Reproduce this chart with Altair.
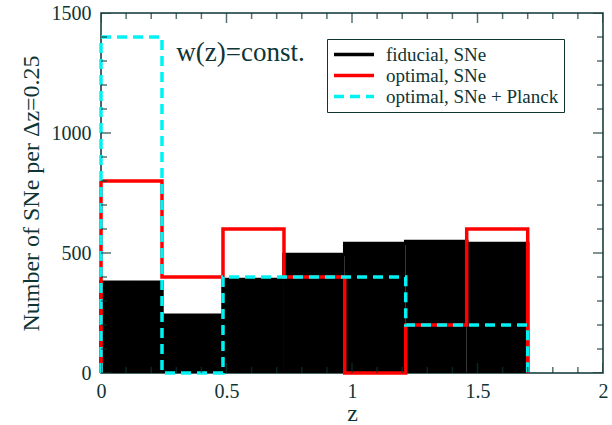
import altair as alt
import pandas as pd

# bin edges (z) and counts per bin
edges = [0.0, 0.243, 0.486, 0.729, 0.971, 1.214, 1.457, 1.7]
fiducial = [378, 241, 390, 494, 540, 548, 540]
optimal = [800, 400, 600, 400, 0, 200, 600]
planck = [1400, 0, 400, 400, 400, 200, 200]

series_names = ["fiducial, SNe", "optimal, SNe", "optimal, SNe + Planck"]
series_colors = ["#000000", "#ff0000", "#00f2f2"]
series_dash = [[1, 0], [1, 0], [10, 6]]

x_major = [0, 0.5, 1, 1.5, 2]
x_minor = [0.1, 0.2, 0.3, 0.4, 0.6, 0.7, 0.8, 0.9, 1.1, 1.2, 1.3, 1.4, 1.6, 1.7, 1.8, 1.9]
y_major = [0, 500, 1000, 1500]
y_minor = [100, 200, 300, 400, 600, 700, 800, 900, 1100, 1200, 1300, 1400]

FONT = "Liberation Serif"
INK = "#0e3434"

bars = pd.DataFrame({"lo": edges[:-1], "hi": edges[1:], "n": fiducial})


def step_rows(name, vals):
    pts = [(edges[0], 0)]
    for i, v in enumerate(vals):
        pts.append((edges[i], v))
        pts.append((edges[i + 1], v))
    pts.append((edges[-1], 0))
    return [{"series": name, "z": z, "n": n, "k": k} for k, (z, n) in enumerate(pts)]


steps = pd.DataFrame(
    step_rows(series_names[0], fiducial)
    + step_rows(series_names[1], optimal)
    + step_rows(series_names[2], planck)
)

xscale = alt.Scale(domain=[0, 2], nice=False, zero=False)
yscale = alt.Scale(domain=[0, 1500], nice=False)

xaxis = alt.Axis(values=x_major, labelExpr="datum.value + ''", labelPadding=8,
                 title="z", titlePadding=0)
yaxis = alt.Axis(values=y_major, labelExpr="datum.value + ''", labelPadding=10,
                 title="Number of SNe per \u0394z=0.25", titlePadding=8)

fill = alt.Chart(bars).mark_rect(color="black").encode(
    x=alt.X("lo:Q", scale=xscale, axis=xaxis),
    x2="hi:Q",
    y=alt.Y("n:Q", scale=yscale, axis=yaxis),
    y2=alt.datum(0),
)

legend = alt.Legend(
    orient="none", legendX=226, legendY=26, title=None,
    symbolType="stroke", symbolSize=1600, symbolStrokeWidth=3.5,
    labelFont=FONT, labelFontSize=19, labelColor=INK, labelOffset=10, labelLimit=0,
    strokeColor=INK, padding=5, rowPadding=0, clipHeight=21, fillColor="white",
)

color = alt.Color("series:N", scale=alt.Scale(domain=series_names, range=series_colors), legend=legend)
dash = alt.StrokeDash("series:N", scale=alt.Scale(domain=series_names, range=series_dash), legend=legend)


def line_layer(name):
    return alt.Chart(steps).transform_filter(alt.datum.series == name).mark_line(
        strokeWidth=3.5, strokeCap="butt"
    ).encode(
        x=alt.X("z:Q", scale=xscale, axis=xaxis),
        y=alt.Y("n:Q", scale=yscale, axis=yaxis),
        order="k:Q",
        color=color,
        strokeDash=dash,
    )


def tick_layer(vals, axis, edge, size):
    df = pd.DataFrame({"v": vals})
    if axis == "x":
        return alt.Chart(df).mark_tick(orient="vertical", size=size, thickness=1.5,
                                       color=INK, clip=True).encode(
            x=alt.X("v:Q", scale=xscale, axis=xaxis), y=alt.datum(edge))
    return alt.Chart(df).mark_tick(orient="horizontal", size=size, thickness=1.5,
                                   color=INK, clip=True).encode(
        y=alt.Y("v:Q", scale=yscale, axis=yaxis), x=alt.datum(edge))


ticks = [
    tick_layer(x_major, "x", 0, 20), tick_layer(x_minor, "x", 0, 12),
    tick_layer(x_major, "x", 1500, 20), tick_layer(x_minor, "x", 1500, 12),
    tick_layer(y_major, "y", 0, 20), tick_layer(y_minor, "y", 0, 12),
    tick_layer(y_major, "y", 2, 20), tick_layer(y_minor, "y", 2, 12),
]

note = alt.Chart(pd.DataFrame({"t": ["w(z)=const."]})).mark_text(
    font=FONT, fontSize=27, color=INK, align="left", baseline="middle"
).encode(x=alt.datum(0.3), y=alt.datum(1333), text="t:N")

chart = alt.layer(
    fill, line_layer(series_names[0]), line_layer(series_names[1]), line_layer(series_names[2]),
    *ticks, note
).properties(
    width=502, height=360,
    autosize=alt.AutoSizeParams(type="none"),
    padding={"left": 101, "top": 13, "right": 9, "bottom": 52},
).configure(font=FONT).configure_view(stroke=INK, strokeWidth=1.5).configure_axis(
    grid=False, domain=False, ticks=False, tickSize=0, labelFlush=False, labelOverlap=False,
    labelFont=FONT, labelFontSize=20, labelColor=INK,
    titleFont=FONT, titleFontSize=24, titleFontWeight="normal", titleColor=INK,
).configure_legend(labelFont=FONT, labelFontSize=19, labelColor=INK)

chart.save("out.html", embed_options={"renderer": "svg", "actions": False})
